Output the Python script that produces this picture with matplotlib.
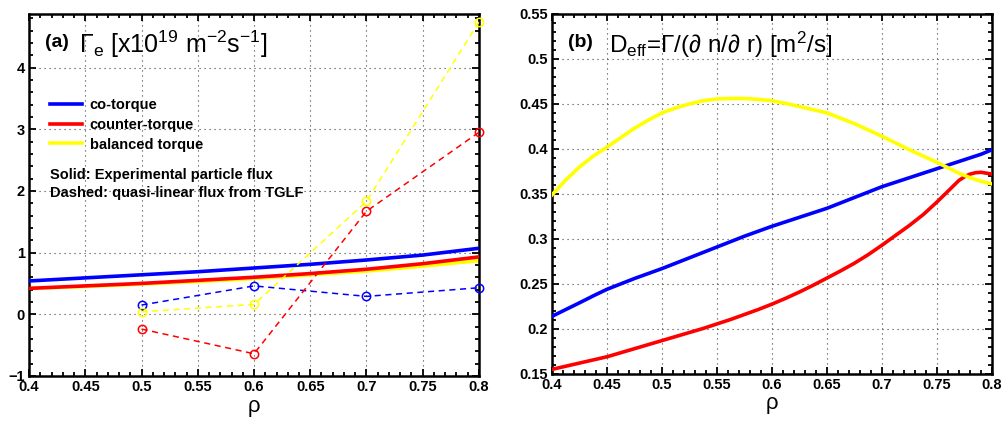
import numpy as np
import matplotlib
matplotlib.use("Agg")
import matplotlib.pyplot as plt
from matplotlib.ticker import MultipleLocator, FuncFormatter
from matplotlib.font_manager import FontProperties

plt.rcParams['font.family'] = ['Liberation Sans', 'DejaVu Sans']
plt.rcParams['mathtext.fontset'] = 'custom'
plt.rcParams['mathtext.rm'] = 'Liberation Sans'
plt.rcParams['mathtext.it'] = 'Liberation Sans:italic'
plt.rcParams['mathtext.bf'] = 'Liberation Sans:bold'

# ---- panel (a): particle flux ----
rho_exp = [0.40, 0.45, 0.50, 0.55, 0.60, 0.65, 0.70, 0.75, 0.80]
flux_co = [0.54, 0.59, 0.64, 0.69, 0.75, 0.81, 0.88, 0.96, 1.07]
flux_counter = [0.42, 0.46, 0.50, 0.55, 0.60, 0.66, 0.73, 0.82, 0.93]
flux_bal = [0.42, 0.45, 0.49, 0.53, 0.58, 0.64, 0.70, 0.78, 0.87]

rho_tglf = [0.5, 0.6, 0.7, 0.8]
tglf_co = [0.15, 0.46, 0.29, 0.43]
tglf_counter = [-0.24, -0.64, 1.67, 2.95]
tglf_bal = [0.04, 0.16, 1.83, 4.74]

# ---- panel (b): effective diffusivity ----
rho_d = [0.40, 0.4125, 0.425, 0.4375, 0.45, 0.4625, 0.475, 0.4875, 0.50, 0.5125,
         0.525, 0.5375, 0.55, 0.5625, 0.575, 0.5875, 0.60, 0.6125, 0.625, 0.6375,
         0.65, 0.6625, 0.675, 0.6875, 0.70, 0.7125, 0.725, 0.7375, 0.75, 0.76,
         0.77, 0.775, 0.78, 0.785, 0.79, 0.795, 0.80]
d_co = [0.214, 0.2215, 0.229, 0.2367, 0.244, 0.250, 0.256, 0.2615, 0.267, 0.273,
        0.279, 0.285, 0.291, 0.297, 0.303, 0.3085, 0.314, 0.319, 0.324, 0.329,
        0.334, 0.340, 0.346, 0.352, 0.358, 0.363, 0.368, 0.373, 0.378, 0.382,
        0.386, 0.388, 0.390, 0.392, 0.394, 0.3965, 0.399]
d_counter = [0.155, 0.1585, 0.162, 0.1655, 0.169, 0.1735, 0.178, 0.1825, 0.187, 0.1915,
             0.196, 0.2005, 0.2055, 0.2105, 0.216, 0.2215, 0.2275, 0.234, 0.241, 0.2485,
             0.2565, 0.2645, 0.273, 0.2825, 0.293, 0.304, 0.315, 0.327, 0.341, 0.353,
             0.365, 0.369, 0.372, 0.3735, 0.374, 0.373, 0.372]
d_bal = [0.349, 0.3655, 0.380, 0.392, 0.402, 0.4125, 0.423, 0.432, 0.440, 0.4455,
         0.450, 0.4535, 0.4555, 0.456, 0.456, 0.455, 0.4535, 0.4505, 0.447, 0.4435,
         0.440, 0.434, 0.428, 0.421, 0.414, 0.4065, 0.399, 0.392, 0.385, 0.379,
         0.373, 0.3705, 0.368, 0.366, 0.364, 0.3625, 0.361]

BLUE, RED, YEL = (0, 0, 1), (1, 0, 0), (1, 1, 0)
bold = dict(fontweight='bold')

fig = plt.figure(figsize=(10.02, 4.21), dpi=100)
ax1 = fig.add_axes([0.029, 0.107, 0.449, 0.860])
ax2 = fig.add_axes([0.551, 0.112, 0.439, 0.855])

fmt = FuncFormatter(lambda v, p: f'{v:g}'.replace('-', '\u2212'))


def style(ax, ymajor, yminor):
    ax.xaxis.set_major_locator(MultipleLocator(0.05))
    ax.xaxis.set_minor_locator(MultipleLocator(0.01))
    ax.yaxis.set_major_locator(MultipleLocator(ymajor))
    ax.yaxis.set_minor_locator(MultipleLocator(yminor))
    ax.xaxis.set_major_formatter(fmt)
    ax.yaxis.set_major_formatter(fmt)
    ax.tick_params(which='both', direction='in', top=True, right=True, width=1.3)
    ax.tick_params(which='major', length=5, labelsize=10.5, pad=3)
    ax.tick_params(which='minor', length=3)
    for lab in ax.get_xticklabels() + ax.get_yticklabels():
        lab.set_fontweight('bold')
    for sp in ax.spines.values():
        sp.set_linewidth(1.8)
    ax.grid(True, which='major', linestyle=(0, (1, 3.5)), color='0.25', linewidth=0.8)
    ax.set_axisbelow(True)
    ax.set_xlabel('\u03c1', fontsize=16, labelpad=1)


# panel (a)
l_co, = ax1.plot(rho_exp, flux_co, color=BLUE, lw=2.6, label='co-torque', zorder=4)
l_ct, = ax1.plot(rho_exp, flux_counter, color=RED, lw=2.6, label='counter-torque', zorder=3)
l_bl, = ax1.plot(rho_exp, flux_bal, color=YEL, lw=2.6, label='balanced torque', zorder=2)
for y, c in [(tglf_co, BLUE), (tglf_counter, RED), (tglf_bal, YEL)]:
    ax1.plot(rho_tglf, y, '--', color=c, lw=1.1, marker='o', mfc='none',
             mec=c, ms=6, mew=1.1, dashes=(4, 3), zorder=5, clip_on=False)
ax1.set_xlim(0.4, 0.8)
ax1.set_ylim(-1, 4.87)
style(ax1, 1, 0.2)
ax1.text(0.036, 0.92, '(a)', transform=ax1.transAxes, fontsize=14, va='center', **bold)
ax1.text(0.112, 0.915, r'$\Gamma_{\mathrm{e}}$ [x10$^{19}$ m$^{-2}$s$^{-1}$]',
         transform=ax1.transAxes, fontsize=18, va='center')
legfont = FontProperties(family='Liberation Sans', weight='bold', size=10.5)
ax1.legend(handles=[l_co, l_ct, l_bl], loc='upper left', bbox_to_anchor=(0.047, 0.768),
           frameon=False, borderpad=0, borderaxespad=0, handlelength=2.2,
           handletextpad=0.5, labelspacing=0.4, prop=legfont)
ax1.text(0.047, 0.555, 'Solid: Experimental particle flux', transform=ax1.transAxes,
         fontsize=10.5, va='center', **bold)
ax1.text(0.047, 0.505, 'Dashed: quasi-linear flux from TGLF', transform=ax1.transAxes,
         fontsize=10.5, va='center', **bold)

# panel (b)
ax2.plot(rho_d, d_co, color=BLUE, lw=2.6, zorder=3)
ax2.plot(rho_d, d_counter, color=RED, lw=2.6, zorder=3)
ax2.plot(rho_d, d_bal, color=YEL, lw=2.6, zorder=4)
ax2.set_xlim(0.4, 0.8)
ax2.set_ylim(0.15, 0.55)
style(ax2, 0.05, 0.01)
ax2.text(0.036, 0.92, '(b)', transform=ax2.transAxes, fontsize=14, va='center', **bold)
ax2.text(0.13, 0.915, r'D$_{\mathrm{eff}}$=$\Gamma$/($\partial$ n/$\partial$ r) [m$^2$/s]',
         transform=ax2.transAxes, fontsize=17.5, va='center')

fig.savefig('out.png', dpi=100)
